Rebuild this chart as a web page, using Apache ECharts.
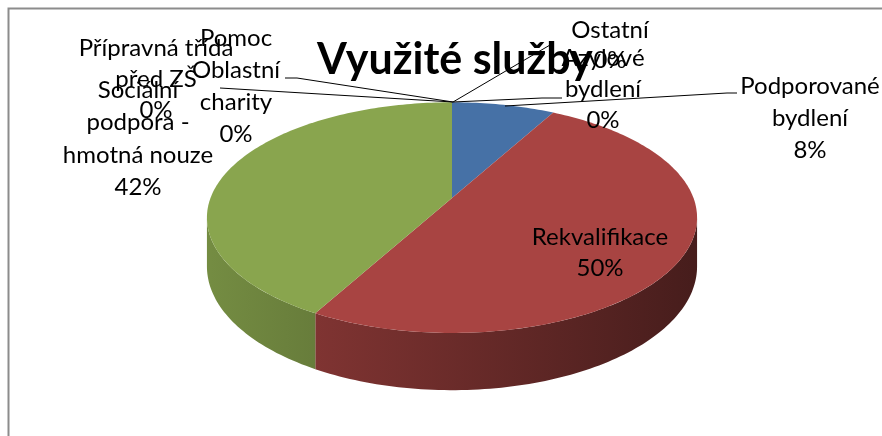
<!DOCTYPE html>
<html>
<head>
<meta charset="utf-8">
<style>
  html, body { margin: 0; padding: 0; background: #fff; }
  #chart-container { width: 882px; height: 436px; }
</style>
<script src="https://cdn.jsdelivr.net/npm/echarts@6/dist/echarts.min.js"></script>
</head>
<body>
<div id="chart-container"></div>
<script>
var dom = document.getElementById("chart-container");
var myChart = echarts.init(dom, null, { renderer: "canvas" });

var chart_title = "Využité služby";
var categories = [
  "Podporované bydlení",
  "Rekvalifikace",
  "Sociální podpora - hmotná nouze",
  "Přípravná třída před ZŠ",
  "Pomoc Oblastní charity",
  "Ostatní",
  "Azylové bydlení",
];
var values = [8, 50, 42, 0, 0, 0, 0];
var colors = ["#4671a6", "#a84442", "#89a54e", "#7d5fa0", "#4198af", "#db843d", "#93a9cf"];

// pie geometry (fake 3d, slight perspective)
var PIE = { cx: 452, cy: 198, rx: 241.5, ry: 112, depth: 47.5, persp: 0.17 };

// how Excel wrapped and placed the labels
var LABELS = [
  { text: "Podporované\nbydlení", x: 810, y: 86, lh: 32, line: [[505, 106], [727, 93], [737, 93]] },
  { text: "Rekvalifikace", x: 600, y: 237, lh: 31 },
  { text: "Sociální\npodpora -\nhmotná nouze", x: 138, y: 90, lh: 32.5 },
  { text: "Přípravná třída\npřed ZŠ", x: 156, y: 48, lh: 31, line: [[220, 88], [453, 102]] },
  { text: "Pomoc\nOblastní\ncharity", x: 236, y: 38, lh: 32, line: [[285, 78], [297, 78], [453, 102]] },
  { text: "Ostatní", x: 610, y: 30, lh: 30, line: [[453, 102], [550, 45]] },
  { text: "Azylové\nbydlení", x: 603, y: 58, lh: 31, line: [[453, 102], [542, 98], [562, 98]] },
];

var total = values.reduce(function (a, b) { return a + b; }, 0);

function startAngle(i) {
  var s = 0;
  for (var k = 0; k < i; k++) s += values[k];
  return -Math.PI / 2 + (s / total) * Math.PI * 2;
}

function proj(t, h) {
  var s = 1 / (1 - PIE.persp * Math.sin(t));
  return [
    PIE.cx + PIE.rx * Math.cos(t) * s,
    PIE.cy + PIE.ry * Math.sin(t) * s + h * s,
  ];
}

function arc(a0, a1, h) {
  var pts = [];
  var n = Math.max(2, Math.ceil(Math.abs(a1 - a0) / 0.02));
  for (var k = 0; k <= n; k++) pts.push(proj(a0 + ((a1 - a0) * k) / n, h));
  return pts;
}

function shade(hex, f) {
  var c = echarts.color.parse(hex);
  return "rgb(" + Math.round(c[0] * f) + "," + Math.round(c[1] * f) + "," + Math.round(c[2] * f) + ")";
}

function renderSide(params, api) {
  var i = params.dataIndex;
  var v = api.value(1);
  if (!v) return null;
  var a0 = startAngle(i);
  var a1 = a0 + (v / total) * Math.PI * 2;
  var t0 = Math.asin(PIE.persp);
  var s0 = Math.max(a0, t0);
  var s1 = Math.min(a1, Math.PI - t0);
  if (s1 <= s0) return null;
  var pts = arc(s0, s1, 0).concat(arc(s1, s0, PIE.depth));
  return {
    type: "polygon",
    shape: { points: pts },
    style: {
      fill: {
        type: "linear", global: true,
        x: PIE.cx - PIE.rx, y: 0, x2: PIE.cx + PIE.rx, y2: 0,
        colorStops: [
          { offset: 0, color: shade(colors[i], 0.85) },
          { offset: 1, color: shade(colors[i], 0.42) },
        ],
      },
    },
  };
}

function renderTop(params, api) {
  var i = params.dataIndex;
  var v = api.value(1);
  var children = [];
  if (v > 0) {
    var a0 = startAngle(i);
    var a1 = a0 + (v / total) * Math.PI * 2;
    var pts = [[PIE.cx, PIE.cy]].concat(arc(a0, a1, 0));
    children.push({ type: "polygon", shape: { points: pts }, style: { fill: colors[i] } });
  }
  var lab = LABELS[i];
  if (lab.line) {
    children.push({
      type: "polyline",
      shape: { points: lab.line },
      style: { stroke: "#000", fill: null, lineWidth: 1 },
    });
  }
  var pct = Math.round((v / total) * 100) + "%";
  children.push({
    type: "text",
    x: lab.x,
    y: lab.y - lab.lh / 2,
    style: {
      text: lab.text + "\n" + pct,
      fill: "#000",
      font: "24px Lato",
      align: "center",
      verticalAlign: "top",
      lineHeight: lab.lh,
    },
  });
  return { type: "group", children: children };
}

var seriesData = values.map(function (v, i) { return [i, v]; });

var option = {
  animation: false,
  title: {
    text: chart_title,
    left: 312,
    top: 34,
    textStyle: { fontSize: 43, fontWeight: "bold", fontFamily: "Lato", color: "#000" },
  },
  graphic: [
    {
      type: "rect",
      shape: { x: 8.5, y: 8.5, width: 1000, height: 1000 },
      style: { fill: null, stroke: "#8c8c8c", lineWidth: 2 },
      silent: true,
    },
  ],
  series: [
    { type: "custom", coordinateSystem: "none", renderItem: renderSide, data: seriesData, z: 1, silent: true },
    { type: "custom", coordinateSystem: "none", renderItem: renderTop, data: seriesData, z: 2, silent: true },
  ],
};

myChart.setOption(option);

window.addEventListener("resize", function () {
  myChart.resize();
});
</script>
</body>
</html>
